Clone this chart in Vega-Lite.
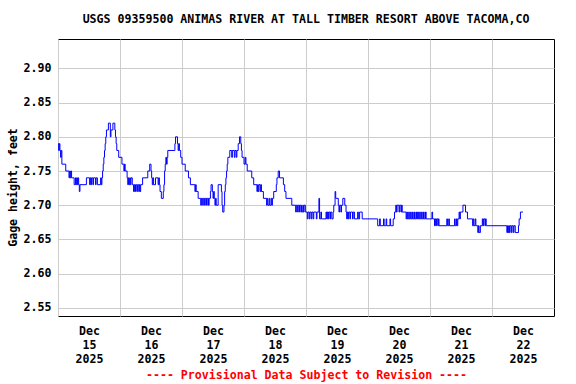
{
  "$schema": "https://vega.github.io/schema/vega-lite/v6.json",
  "width": 496,
  "height": 277,
  "autosize": {"type": "none"},
  "padding": {"left": 58, "top": 39, "right": 22, "bottom": 68},
  "background": "white",
  "title": {
    "text": "USGS 09359500 ANIMAS RIVER AT TALL TIMBER RESORT ABOVE TACOMA,CO",
    "frame": "group",
    "anchor": "middle",
    "font": "DejaVu Sans Mono",
    "fontSize": 11.6,
    "fontWeight": "bold",
    "color": "black",
    "offset": 13
  },
  "config": {
    "view": {"stroke": "black", "strokeWidth": 1},
    "axis": {
      "labelFont": "DejaVu Sans Mono",
      "labelFontSize": 11.6,
      "labelFontWeight": "bold",
      "labelColor": "black",
      "titleFont": "DejaVu Sans Mono",
      "titleFontSize": 11.6,
      "titleFontWeight": "bold",
      "gridColor": "#cccccc",
      "gridOpacity": 1,
      "gridWidth": 1,
      "ticks": false,
      "domain": false
    }
  },
  "data": {"values": [
    {"t":"2025-12-15T00:00","v":2.79},{"t":"2025-12-15T00:15","v":2.78},{"t":"2025-12-15T00:30","v":2.79},{"t":"2025-12-15T00:45","v":2.78},
    {"t":"2025-12-15T01:00","v":2.77},{"t":"2025-12-15T01:15","v":2.78},{"t":"2025-12-15T01:30","v":2.76},{"t":"2025-12-15T03:00","v":2.75},
    {"t":"2025-12-15T04:15","v":2.74},{"t":"2025-12-15T04:30","v":2.75},{"t":"2025-12-15T04:45","v":2.74},{"t":"2025-12-15T05:00","v":2.75},
    {"t":"2025-12-15T05:15","v":2.74},{"t":"2025-12-15T06:15","v":2.73},{"t":"2025-12-15T06:45","v":2.74},{"t":"2025-12-15T07:00","v":2.73},
    {"t":"2025-12-15T07:15","v":2.74},{"t":"2025-12-15T07:30","v":2.73},{"t":"2025-12-15T07:45","v":2.74},{"t":"2025-12-15T08:00","v":2.73},
    {"t":"2025-12-15T08:15","v":2.72},{"t":"2025-12-15T08:30","v":2.73},{"t":"2025-12-15T11:00","v":2.74},{"t":"2025-12-15T12:15","v":2.73},
    {"t":"2025-12-15T12:30","v":2.74},{"t":"2025-12-15T12:45","v":2.73},{"t":"2025-12-15T13:00","v":2.74},{"t":"2025-12-15T13:30","v":2.73},
    {"t":"2025-12-15T13:45","v":2.74},{"t":"2025-12-15T14:30","v":2.73},{"t":"2025-12-15T14:45","v":2.74},{"t":"2025-12-15T15:15","v":2.73},
    {"t":"2025-12-15T16:30","v":2.74},{"t":"2025-12-15T16:45","v":2.73},{"t":"2025-12-15T17:00","v":2.74},{"t":"2025-12-15T17:15","v":2.75},
    {"t":"2025-12-15T17:30","v":2.76},{"t":"2025-12-15T17:45","v":2.77},{"t":"2025-12-15T18:00","v":2.78},{"t":"2025-12-15T18:15","v":2.79},
    {"t":"2025-12-15T18:30","v":2.80},{"t":"2025-12-15T18:45","v":2.81},{"t":"2025-12-15T19:30","v":2.82},{"t":"2025-12-15T20:15","v":2.80},
    {"t":"2025-12-15T20:30","v":2.81},{"t":"2025-12-15T21:15","v":2.82},{"t":"2025-12-15T22:00","v":2.81},{"t":"2025-12-15T22:15","v":2.80},
    {"t":"2025-12-15T22:30","v":2.79},{"t":"2025-12-15T22:45","v":2.78},{"t":"2025-12-15T23:30","v":2.77},
    {"t":"2025-12-16T00:45","v":2.76},{"t":"2025-12-16T01:30","v":2.75},{"t":"2025-12-16T01:45","v":2.76},{"t":"2025-12-16T02:00","v":2.75},
    {"t":"2025-12-16T02:45","v":2.74},{"t":"2025-12-16T03:00","v":2.73},{"t":"2025-12-16T03:15","v":2.74},{"t":"2025-12-16T03:30","v":2.73},
    {"t":"2025-12-16T03:45","v":2.74},{"t":"2025-12-16T04:00","v":2.73},{"t":"2025-12-16T04:15","v":2.74},{"t":"2025-12-16T04:45","v":2.73},
    {"t":"2025-12-16T05:15","v":2.72},{"t":"2025-12-16T05:30","v":2.73},{"t":"2025-12-16T05:45","v":2.72},{"t":"2025-12-16T06:00","v":2.73},
    {"t":"2025-12-16T06:30","v":2.72},{"t":"2025-12-16T06:45","v":2.73},{"t":"2025-12-16T07:15","v":2.72},{"t":"2025-12-16T07:30","v":2.73},
    {"t":"2025-12-16T07:45","v":2.72},{"t":"2025-12-16T08:00","v":2.73},{"t":"2025-12-16T08:45","v":2.74},{"t":"2025-12-16T10:45","v":2.75},
    {"t":"2025-12-16T11:30","v":2.76},{"t":"2025-12-16T12:00","v":2.75},{"t":"2025-12-16T12:15","v":2.74},{"t":"2025-12-16T12:30","v":2.73},
    {"t":"2025-12-16T12:45","v":2.74},{"t":"2025-12-16T13:00","v":2.73},{"t":"2025-12-16T13:45","v":2.74},{"t":"2025-12-16T14:45","v":2.73},
    {"t":"2025-12-16T15:00","v":2.74},{"t":"2025-12-16T15:15","v":2.73},{"t":"2025-12-16T15:30","v":2.72},{"t":"2025-12-16T16:00","v":2.71},
    {"t":"2025-12-16T16:45","v":2.72},{"t":"2025-12-16T17:00","v":2.73},{"t":"2025-12-16T17:15","v":2.75},{"t":"2025-12-16T17:30","v":2.76},
    {"t":"2025-12-16T17:45","v":2.77},{"t":"2025-12-16T18:00","v":2.76},{"t":"2025-12-16T18:15","v":2.77},{"t":"2025-12-16T18:30","v":2.78},
    {"t":"2025-12-16T21:15","v":2.79},{"t":"2025-12-16T21:30","v":2.80},{"t":"2025-12-16T22:15","v":2.79},{"t":"2025-12-16T22:30","v":2.78},
    {"t":"2025-12-16T22:45","v":2.79},{"t":"2025-12-16T23:00","v":2.78},{"t":"2025-12-16T23:30","v":2.77},
    {"t":"2025-12-17T00:00","v":2.76},{"t":"2025-12-17T01:15","v":2.75},{"t":"2025-12-17T02:30","v":2.74},{"t":"2025-12-17T03:15","v":2.73},
    {"t":"2025-12-17T05:00","v":2.72},{"t":"2025-12-17T05:15","v":2.73},{"t":"2025-12-17T05:30","v":2.72},{"t":"2025-12-17T06:15","v":2.71},
    {"t":"2025-12-17T07:15","v":2.70},{"t":"2025-12-17T07:30","v":2.71},{"t":"2025-12-17T08:00","v":2.70},{"t":"2025-12-17T08:15","v":2.71},
    {"t":"2025-12-17T08:45","v":2.70},{"t":"2025-12-17T09:00","v":2.71},{"t":"2025-12-17T09:30","v":2.70},{"t":"2025-12-17T09:45","v":2.71},
    {"t":"2025-12-17T10:15","v":2.70},{"t":"2025-12-17T10:30","v":2.71},{"t":"2025-12-17T11:00","v":2.72},{"t":"2025-12-17T11:15","v":2.73},
    {"t":"2025-12-17T11:45","v":2.72},{"t":"2025-12-17T12:00","v":2.71},{"t":"2025-12-17T12:15","v":2.72},{"t":"2025-12-17T12:30","v":2.71},
    {"t":"2025-12-17T12:45","v":2.70},{"t":"2025-12-17T13:00","v":2.71},{"t":"2025-12-17T13:15","v":2.70},{"t":"2025-12-17T14:00","v":2.73},
    {"t":"2025-12-17T15:15","v":2.72},{"t":"2025-12-17T15:30","v":2.70},{"t":"2025-12-17T15:45","v":2.69},{"t":"2025-12-17T16:15","v":2.70},
    {"t":"2025-12-17T16:30","v":2.72},{"t":"2025-12-17T16:45","v":2.73},{"t":"2025-12-17T17:00","v":2.74},{"t":"2025-12-17T17:15","v":2.75},
    {"t":"2025-12-17T17:30","v":2.76},{"t":"2025-12-17T17:45","v":2.77},{"t":"2025-12-17T18:30","v":2.78},{"t":"2025-12-17T19:15","v":2.77},
    {"t":"2025-12-17T19:30","v":2.78},{"t":"2025-12-17T20:15","v":2.77},{"t":"2025-12-17T20:30","v":2.78},{"t":"2025-12-17T21:00","v":2.77},
    {"t":"2025-12-17T21:15","v":2.78},{"t":"2025-12-17T21:45","v":2.79},{"t":"2025-12-17T22:15","v":2.80},{"t":"2025-12-17T22:45","v":2.79},
    {"t":"2025-12-17T23:00","v":2.78},{"t":"2025-12-17T23:15","v":2.77},
    {"t":"2025-12-18T00:00","v":2.76},{"t":"2025-12-18T00:30","v":2.77},{"t":"2025-12-18T00:45","v":2.76},{"t":"2025-12-18T01:15","v":2.75},
    {"t":"2025-12-18T03:00","v":2.74},{"t":"2025-12-18T03:45","v":2.73},{"t":"2025-12-18T05:00","v":2.72},{"t":"2025-12-18T05:15","v":2.73},
    {"t":"2025-12-18T05:30","v":2.72},{"t":"2025-12-18T05:45","v":2.73},{"t":"2025-12-18T06:15","v":2.72},{"t":"2025-12-18T06:30","v":2.73},
    {"t":"2025-12-18T06:45","v":2.72},{"t":"2025-12-18T07:30","v":2.71},{"t":"2025-12-18T08:45","v":2.70},{"t":"2025-12-18T09:00","v":2.71},
    {"t":"2025-12-18T09:15","v":2.70},{"t":"2025-12-18T09:45","v":2.71},{"t":"2025-12-18T10:00","v":2.70},{"t":"2025-12-18T10:30","v":2.71},
    {"t":"2025-12-18T10:45","v":2.70},{"t":"2025-12-18T11:00","v":2.71},{"t":"2025-12-18T11:30","v":2.72},{"t":"2025-12-18T12:30","v":2.73},
    {"t":"2025-12-18T12:45","v":2.74},{"t":"2025-12-18T13:15","v":2.75},{"t":"2025-12-18T13:45","v":2.74},{"t":"2025-12-18T15:15","v":2.73},
    {"t":"2025-12-18T15:45","v":2.72},{"t":"2025-12-18T16:15","v":2.71},{"t":"2025-12-18T18:30","v":2.70},{"t":"2025-12-18T20:00","v":2.69},
    {"t":"2025-12-18T20:15","v":2.70},{"t":"2025-12-18T20:45","v":2.69},{"t":"2025-12-18T21:00","v":2.70},{"t":"2025-12-18T21:30","v":2.69},
    {"t":"2025-12-18T21:45","v":2.70},{"t":"2025-12-18T22:15","v":2.69},{"t":"2025-12-18T22:45","v":2.70},{"t":"2025-12-18T23:00","v":2.69},
    {"t":"2025-12-18T23:15","v":2.70},{"t":"2025-12-18T23:45","v":2.69},
    {"t":"2025-12-19T00:30","v":2.68},{"t":"2025-12-19T00:45","v":2.69},{"t":"2025-12-19T01:15","v":2.68},{"t":"2025-12-19T01:30","v":2.69},
    {"t":"2025-12-19T02:00","v":2.68},{"t":"2025-12-19T02:15","v":2.69},{"t":"2025-12-19T02:45","v":2.68},{"t":"2025-12-19T03:00","v":2.69},
    {"t":"2025-12-19T04:00","v":2.68},{"t":"2025-12-19T04:15","v":2.69},{"t":"2025-12-19T05:00","v":2.71},{"t":"2025-12-19T05:15","v":2.68},
    {"t":"2025-12-19T05:45","v":2.69},{"t":"2025-12-19T06:00","v":2.68},{"t":"2025-12-19T07:45","v":2.69},{"t":"2025-12-19T08:00","v":2.68},
    {"t":"2025-12-19T08:15","v":2.69},{"t":"2025-12-19T08:30","v":2.68},{"t":"2025-12-19T08:45","v":2.69},{"t":"2025-12-19T09:15","v":2.68},
    {"t":"2025-12-19T09:30","v":2.69},{"t":"2025-12-19T10:00","v":2.68},{"t":"2025-12-19T10:30","v":2.69},{"t":"2025-12-19T10:45","v":2.70},
    {"t":"2025-12-19T11:15","v":2.72},{"t":"2025-12-19T11:30","v":2.71},{"t":"2025-12-19T12:30","v":2.70},{"t":"2025-12-19T12:45","v":2.69},
    {"t":"2025-12-19T13:00","v":2.70},{"t":"2025-12-19T13:30","v":2.69},{"t":"2025-12-19T13:45","v":2.70},{"t":"2025-12-19T14:15","v":2.71},
    {"t":"2025-12-19T15:00","v":2.70},{"t":"2025-12-19T15:30","v":2.69},{"t":"2025-12-19T15:45","v":2.68},{"t":"2025-12-19T16:00","v":2.69},
    {"t":"2025-12-19T16:15","v":2.68},{"t":"2025-12-19T16:30","v":2.69},{"t":"2025-12-19T17:00","v":2.68},{"t":"2025-12-19T17:15","v":2.69},
    {"t":"2025-12-19T18:00","v":2.68},{"t":"2025-12-19T18:15","v":2.69},{"t":"2025-12-19T18:45","v":2.68},{"t":"2025-12-19T20:00","v":2.69},
    {"t":"2025-12-19T20:15","v":2.68},{"t":"2025-12-19T20:45","v":2.69},{"t":"2025-12-19T21:45","v":2.68},
    {"t":"2025-12-20T03:45","v":2.67},{"t":"2025-12-20T04:30","v":2.68},{"t":"2025-12-20T04:45","v":2.67},{"t":"2025-12-20T06:00","v":2.68},
    {"t":"2025-12-20T06:15","v":2.67},{"t":"2025-12-20T07:00","v":2.68},{"t":"2025-12-20T07:15","v":2.67},{"t":"2025-12-20T08:30","v":2.68},
    {"t":"2025-12-20T08:45","v":2.67},{"t":"2025-12-20T09:45","v":2.68},{"t":"2025-12-20T10:15","v":2.69},{"t":"2025-12-20T10:45","v":2.70},
    {"t":"2025-12-20T11:00","v":2.69},{"t":"2025-12-20T11:15","v":2.70},{"t":"2025-12-20T12:00","v":2.69},{"t":"2025-12-20T12:15","v":2.70},
    {"t":"2025-12-20T12:45","v":2.69},{"t":"2025-12-20T13:00","v":2.70},{"t":"2025-12-20T13:15","v":2.69},{"t":"2025-12-20T14:45","v":2.68},
    {"t":"2025-12-20T15:00","v":2.69},{"t":"2025-12-20T15:15","v":2.68},{"t":"2025-12-20T15:45","v":2.69},{"t":"2025-12-20T16:00","v":2.68},
    {"t":"2025-12-20T16:30","v":2.69},{"t":"2025-12-20T16:45","v":2.68},{"t":"2025-12-20T17:15","v":2.69},{"t":"2025-12-20T17:30","v":2.68},
    {"t":"2025-12-20T18:00","v":2.69},{"t":"2025-12-20T18:15","v":2.68},{"t":"2025-12-20T18:45","v":2.69},{"t":"2025-12-20T19:00","v":2.68},
    {"t":"2025-12-20T19:15","v":2.69},{"t":"2025-12-20T19:30","v":2.68},{"t":"2025-12-20T20:00","v":2.69},{"t":"2025-12-20T20:15","v":2.68},
    {"t":"2025-12-20T20:45","v":2.69},{"t":"2025-12-20T21:00","v":2.68},{"t":"2025-12-20T21:30","v":2.69},{"t":"2025-12-20T21:45","v":2.68},
    {"t":"2025-12-20T22:15","v":2.69},{"t":"2025-12-20T22:30","v":2.68},
    {"t":"2025-12-21T00:45","v":2.69},{"t":"2025-12-21T01:00","v":2.68},{"t":"2025-12-21T01:45","v":2.67},{"t":"2025-12-21T02:00","v":2.68},
    {"t":"2025-12-21T02:15","v":2.67},{"t":"2025-12-21T02:30","v":2.68},{"t":"2025-12-21T03:00","v":2.67},{"t":"2025-12-21T03:15","v":2.68},
    {"t":"2025-12-21T03:30","v":2.67},{"t":"2025-12-21T06:30","v":2.68},{"t":"2025-12-21T06:45","v":2.67},{"t":"2025-12-21T07:15","v":2.68},
    {"t":"2025-12-21T07:30","v":2.67},{"t":"2025-12-21T09:30","v":2.68},{"t":"2025-12-21T09:45","v":2.67},{"t":"2025-12-21T10:15","v":2.68},
    {"t":"2025-12-21T10:30","v":2.67},{"t":"2025-12-21T10:45","v":2.68},{"t":"2025-12-21T11:15","v":2.69},{"t":"2025-12-21T11:30","v":2.68},
    {"t":"2025-12-21T11:45","v":2.69},{"t":"2025-12-21T12:45","v":2.70},{"t":"2025-12-21T13:45","v":2.69},{"t":"2025-12-21T14:30","v":2.68},
    {"t":"2025-12-21T16:30","v":2.67},{"t":"2025-12-21T16:45","v":2.68},{"t":"2025-12-21T17:00","v":2.67},{"t":"2025-12-21T17:30","v":2.68},
    {"t":"2025-12-21T17:45","v":2.67},{"t":"2025-12-21T18:30","v":2.66},{"t":"2025-12-21T18:45","v":2.67},{"t":"2025-12-21T19:00","v":2.66},
    {"t":"2025-12-21T19:30","v":2.67},{"t":"2025-12-21T20:15","v":2.68},{"t":"2025-12-21T20:30","v":2.67},{"t":"2025-12-21T20:45","v":2.68},
    {"t":"2025-12-21T21:15","v":2.67},{"t":"2025-12-21T21:30","v":2.68},{"t":"2025-12-21T21:45","v":2.67},
    {"t":"2025-12-22T05:45","v":2.66},{"t":"2025-12-22T06:00","v":2.67},{"t":"2025-12-22T06:15","v":2.66},{"t":"2025-12-22T06:30","v":2.67},
    {"t":"2025-12-22T06:45","v":2.66},{"t":"2025-12-22T07:00","v":2.67},{"t":"2025-12-22T07:30","v":2.66},{"t":"2025-12-22T07:45","v":2.67},
    {"t":"2025-12-22T08:15","v":2.66},{"t":"2025-12-22T08:30","v":2.67},{"t":"2025-12-22T09:00","v":2.66},{"t":"2025-12-22T10:15","v":2.67},
    {"t":"2025-12-22T10:30","v":2.68},{"t":"2025-12-22T11:00","v":2.69},{"t":"2025-12-22T12:00","v":2.69}
  ]},
  "mark": {"type": "line", "interpolate": "step-after", "color": "#0000ff", "strokeWidth": 1, "clip": true},
  "encoding": {
    "x": {
      "field": "t",
      "type": "temporal",
      "scale": {"domain": [{"year": 2025, "month": 12, "date": 15}, {"year": 2025, "month": 12, "date": 23}]},
      "axis": {
        "values": [
          {"year": 2025, "month": 12, "date": 15}, {"year": 2025, "month": 12, "date": 16},
          {"year": 2025, "month": 12, "date": 17}, {"year": 2025, "month": 12, "date": 18},
          {"year": 2025, "month": 12, "date": 19}, {"year": 2025, "month": 12, "date": 20},
          {"year": 2025, "month": 12, "date": 21}, {"year": 2025, "month": 12, "date": 22}
        ],
        "labelExpr": "[timeFormat(datum.value, '%b'), timeFormat(datum.value, '%d'), timeFormat(datum.value, '%Y')]",
        "labelOffset": 31,
        "labelFlush": false,
        "labelOverlap": false,
        "labelBound": false,
        "labelPadding": 9,
        "labelLineHeight": 14,
        "grid": true,
        "title": "---- Provisional Data Subject to Revision ----",
        "titleColor": "#ff0000",
        "titleBaseline": "middle",
        "titleY": 59
      }
    },
    "y": {
      "field": "v",
      "type": "quantitative",
      "scale": {"domain": [2.538, 2.943], "zero": false, "nice": false},
      "axis": {
        "values": [2.55, 2.6, 2.65, 2.7, 2.75, 2.8, 2.85, 2.9],
        "format": ".2f",
        "labelPadding": 7,
        "grid": true,
        "title": "Gage height, feet",
        "titleX": -40,
        "titleY": 148
      }
    }
  }
}
